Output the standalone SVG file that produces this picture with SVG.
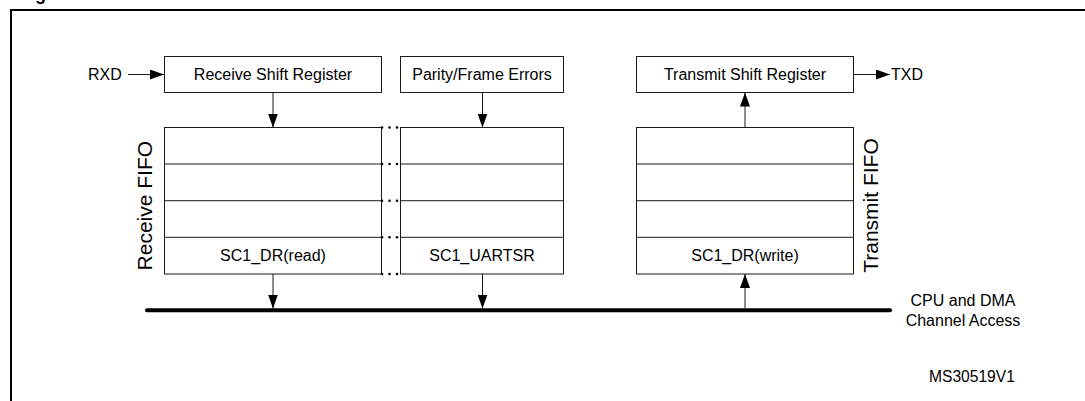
<svg xmlns="http://www.w3.org/2000/svg" width="1085" height="401" viewBox="0 0 1085 401">
<style>
text{font-family:"Liberation Sans",Arial,sans-serif;font-size:16px;fill:#000}
.c{text-anchor:middle}
.box{fill:#fff;stroke:#1a1a1a;stroke-width:1}
.row{stroke:#1a1a1a;stroke-width:1;fill:none}
.ln{stroke:#1a1a1a;stroke-width:1;fill:none}
.dot{fill:#000}
.big{font-size:21px}
</style>
<defs>
<marker id="ah" viewBox="0 0 14 10" refX="14" refY="5" markerWidth="14" markerHeight="10" markerUnits="userSpaceOnUse" orient="auto">
<path d="M0,0 L14,5 L0,10 z" fill="#000"/>
</marker>
</defs>
<rect width="1085" height="401" fill="#fff"/>
<text x="19" y="0" style="font-weight:bold;font-size:18px">Fig</text>
<path d="M11,401 V10 H1085" fill="none" stroke="#000" stroke-width="2"/>

<g id="rx-shift">
<rect class="box" x="164.5" y="56.5" width="217" height="36"/>
<text class="c" x="273" y="79.7">Receive Shift Register</text>
</g>
<g id="parity">
<rect class="box" x="400.5" y="56.5" width="163" height="36"/>
<text class="c" x="482" y="79.7">Parity/Frame Errors</text>
</g>
<g id="tx-shift">
<rect class="box" x="636.5" y="56.5" width="217" height="36"/>
<text class="c" x="745" y="79.7">Transmit Shift Register</text>
</g>

<g id="rx-fifo">
<rect class="box" x="164.5" y="127.5" width="217" height="146.5"/>
<path class="row" d="M164.5,164 H381.5 M164.5,200.7 H381.5 M164.5,237.3 H381.5"/>
<text class="c" x="273" y="261.4">SC1_DR(read)</text>
<text class="c big" transform="translate(151.5,205.7) rotate(-90)">Receive FIFO</text>
</g>
<g id="status-fifo">
<rect class="box" x="400.5" y="127.5" width="163" height="146.5"/>
<path class="row" d="M400.5,164 H563.5 M400.5,200.7 H563.5 M400.5,237.3 H563.5"/>
<text class="c" x="482" y="261.4">SC1_UARTSR</text>
</g>
<g id="dots">
<circle class="dot" cx="382" cy="127.5" r="1.3"/><circle class="dot" cx="389.5" cy="127.5" r="1.3"/><circle class="dot" cx="397" cy="127.5" r="1.3"/>
<circle class="dot" cx="382" cy="164" r="1.3"/><circle class="dot" cx="389.5" cy="164" r="1.3"/><circle class="dot" cx="397" cy="164" r="1.3"/>
<circle class="dot" cx="382" cy="200.7" r="1.3"/><circle class="dot" cx="389.5" cy="200.7" r="1.3"/><circle class="dot" cx="397" cy="200.7" r="1.3"/>
<circle class="dot" cx="382" cy="237.3" r="1.3"/><circle class="dot" cx="389.5" cy="237.3" r="1.3"/><circle class="dot" cx="397" cy="237.3" r="1.3"/>
<circle class="dot" cx="382" cy="274" r="1.3"/><circle class="dot" cx="389.5" cy="274" r="1.3"/><circle class="dot" cx="397" cy="274" r="1.3"/>
</g>
<g id="tx-fifo">
<rect class="box" x="636.5" y="127.5" width="217" height="146.5"/>
<path class="row" d="M636.5,164 H853.5 M636.5,200.7 H853.5 M636.5,237.3 H853.5"/>
<text class="c" x="745" y="261.4">SC1_DR(write)</text>
<text class="c big" transform="translate(878,205.5) rotate(-90)">Transmit FIFO</text>
</g>

<g id="bus">
<line x1="147" y1="310.3" x2="890" y2="310.3" stroke="#000" stroke-width="4" stroke-linecap="round"/>
<text class="c" x="963" y="306">CPU and DMA</text>
<text class="c" x="963" y="325.5">Channel Access</text>
</g>

<g id="rxd"><text x="88" y="80">RXD</text></g>
<g id="txd"><text x="891" y="80">TXD</text></g>

<g id="connectors">
<line class="ln" x1="128" y1="74.5" x2="164" y2="74.5" marker-end="url(#ah)"/>
<line class="ln" x1="273" y1="93" x2="273" y2="127.5" marker-end="url(#ah)"/>
<line class="ln" x1="482.5" y1="93" x2="482.5" y2="127.5" marker-end="url(#ah)"/>
<line class="ln" x1="745" y1="127.5" x2="745" y2="92.5" marker-end="url(#ah)"/>
<line class="ln" x1="854" y1="74.5" x2="890" y2="74.5" marker-end="url(#ah)"/>
<line class="ln" x1="273" y1="274" x2="273" y2="308.5" marker-end="url(#ah)"/>
<line class="ln" x1="482.5" y1="274" x2="482.5" y2="308.5" marker-end="url(#ah)"/>
<line class="ln" x1="745" y1="308.5" x2="745" y2="274" marker-end="url(#ah)"/>
</g>

<text x="929" y="382" style="font-size:15.6px">MS30519V1</text>
</svg>
